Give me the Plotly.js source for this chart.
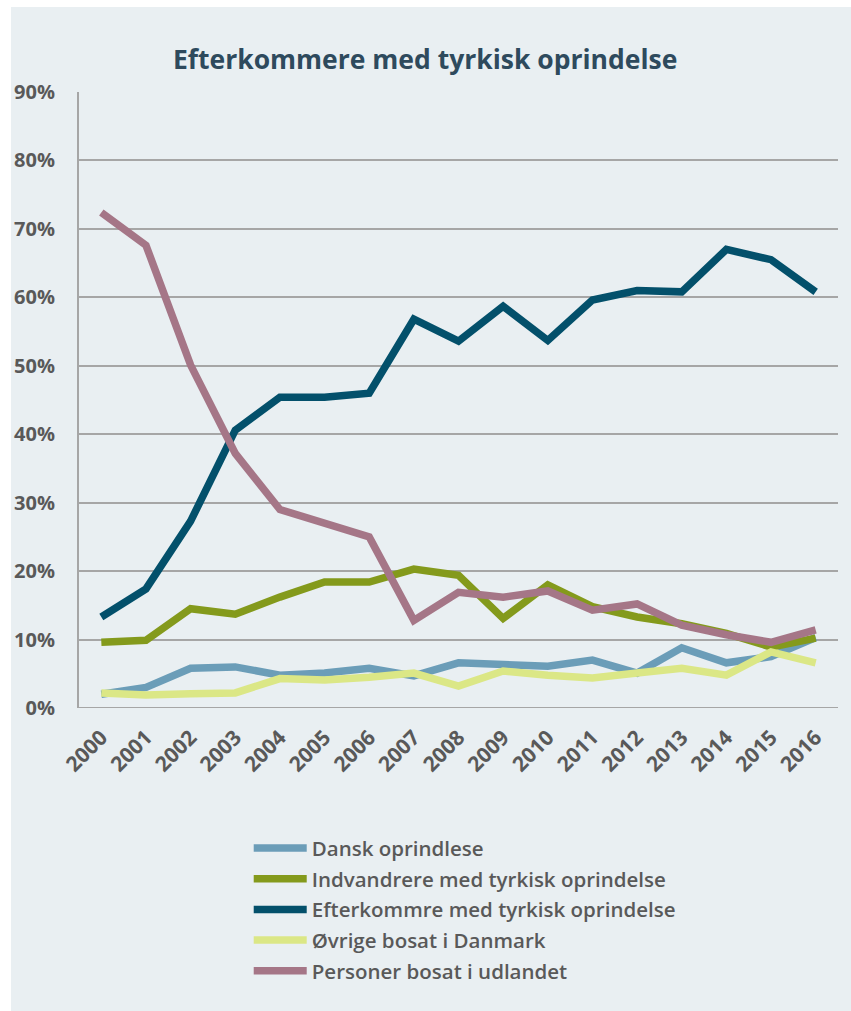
<!DOCTYPE html>
<html>
<head>
<meta charset="utf-8">
<script src="https://cdn.plot.ly/plotly-3.0.1.min.js"></script>
<style>
  html, body { margin: 0; padding: 0; background: #ffffff; }
  #chart { position: absolute; left: 11px; top: 7px; width: 840px; height: 1004px; }
</style>
</head>
<body>
<div id="chart"></div>
<script>
const years = ["2000","2001","2002","2003","2004","2005","2006","2007","2008","2009","2010","2011","2012","2013","2014","2015","2016"];
const dansk = [2.0, 3.0, 5.8, 6.0, 4.8, 5.1, 5.8, 4.7, 6.6, 6.4, 6.1, 7.0, 5.1, 8.8, 6.6, 7.5, 10.3];
const indvandrere = [9.6, 9.9, 14.5, 13.7, 16.2, 18.4, 18.4, 20.3, 19.4, 13.1, 18.0, 14.8, 13.3, 12.3, 10.9, 8.9, 10.2];
const efterkommere = [13.3, 17.4, 27.3, 40.6, 45.4, 45.4, 46.0, 56.8, 53.6, 58.7, 53.7, 59.6, 61.0, 60.8, 67.0, 65.5, 60.8];
const oevrige = [2.2, 1.9, 2.1, 2.2, 4.3, 4.1, 4.5, 5.1, 3.2, 5.4, 4.8, 4.4, 5.1, 5.8, 4.8, 8.2, 6.6];
const udlandet = [72.4, 67.6, 50.1, 37.2, 29.0, 27.1, 25.0, 12.8, 16.9, 16.2, 17.1, 14.3, 15.2, 12.1, 10.7, 9.6, 11.4];
const seriesNames = ["Dansk oprindlese", "Indvandrere med tyrkisk oprindelse", "Efterkommre med tyrkisk oprindelse", "Øvrige bosat i Danmark", "Personer bosat i udlandet"];
const seriesValues = [dansk, indvandrere, efterkommere, oevrige, udlandet];
const seriesColors = ["#6b9db8", "#849a1c", "#03506b", "#dbe786", "#a57687"];
const yTickVals = [0, 10, 20, 30, 40, 50, 60, 70, 80, 90];
const yTickText = ["0%", "10%", "20%", "30%", "40%", "50%", "60%", "70%", "80%", "90%"];

const traces = seriesNames.map((n, i) => ({
  type: "scatter",
  mode: "lines",
  name: n,
  legendgroup: "g" + i,
  x: years,
  y: seriesValues[i],
  line: { color: seriesColors[i], width: 7.5, shape: "linear" },
  hoverinfo: "skip"
}));

const layout = {
  width: 840,
  height: 1004,
  paper_bgcolor: "#e9eff2",
  plot_bgcolor: "#e9eff2",
  margin: { l: 68, r: 13, t: 84.5, b: 303, autoexpand: false },
  title: {
    text: "Efterkommere med tyrkisk oprindelse",
    font: { family: "Open Sans", size: 26.5, weight: 700, color: "#2e4a5d" },
    xref: "container", yref: "container",
    x: 0.493, xanchor: "center",
    y: 0.947, yanchor: "middle"
  },
  xaxis: {
    type: "category",
    range: [-0.5, 16.5],
    tickmode: "array",
    tickvals: years,
    ticktext: years,
    tickangle: -45,
    ticks: "",
    ticklabelstandoff: 12,
    showgrid: false,
    zeroline: false,
    showline: false,
    automargin: false,
    tickfont: { family: "Open Sans", size: 21, weight: 700, color: "#595959" },
    fixedrange: true
  },
  yaxis: {
    range: [0, 90],
    tickvals: yTickVals,
    ticktext: yTickText,
    ticks: "",
    ticklabelstandoff: 18,
    showgrid: true,
    gridcolor: "#a6a6a6",
    gridwidth: 2,
    zeroline: false,
    showline: true,
    linecolor: "#a6a6a6",
    linewidth: 2,
    automargin: false,
    tickfont: { family: "Open Sans", size: 20, weight: 700, color: "#595959" },
    fixedrange: true
  },
  shapes: [{
    type: "line", xref: "paper", yref: "y", x0: 0, x1: 1, y0: 0, y1: 0,
    line: { color: "#a6a6a6", width: 2 }
  }],
  showlegend: true,
  legend: {
    xref: "container", yref: "container",
    x: 0.283, xanchor: "left",
    y: 0.182, yanchor: "top",
    bgcolor: "rgba(0,0,0,0)",
    font: { family: "Open Sans", size: 20.5, weight: 600, color: "#595959" },
    itemwidth: 53,
    tracegroupgap: 1,
    traceorder: "grouped"
  }
};

Plotly.newPlot("chart", traces, layout, { displayModeBar: false, staticPlot: true });
</script>
</body>
</html>
